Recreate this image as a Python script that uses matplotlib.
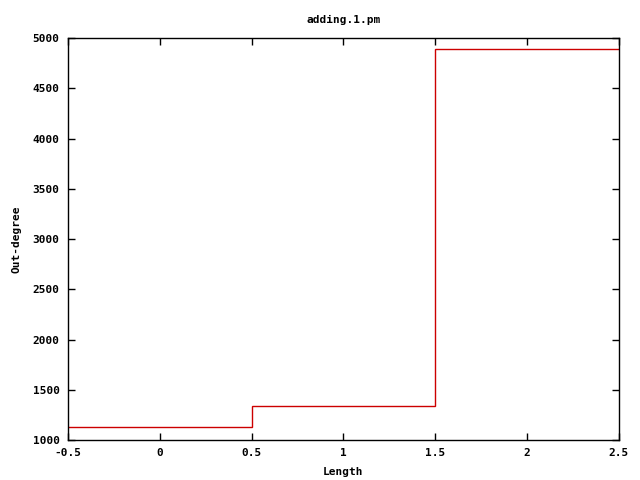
import matplotlib
matplotlib.use("Agg")
import matplotlib.pyplot as plt

# step edges and heights (gnuplot histeps style)
edges = [-0.5, 0.5, 1.5, 2.5]
outdeg = [1126, 1335, 4893]

xticks = [-0.5, 0, 0.5, 1, 1.5, 2, 2.5]
xlabels = ["-0.5", "0", "0.5", "1", "1.5", "2", "2.5"]
yticks = [1000, 1500, 2000, 2500, 3000, 3500, 4000, 4500, 5000]

plt.rcParams['font.family'] = ['DejaVu Sans Mono']
plt.rcParams['font.weight'] = 'bold'
plt.rcParams['font.size'] = 8

fig = plt.figure(figsize=(6.4, 4.8), dpi=100)
ax = fig.add_axes([0.106, 0.0833, 0.861, 0.8375])

ax.stairs(outdeg, edges, baseline=None, color='#cc0000', linewidth=1)

ax.set_xlim(-0.5, 2.5)
ax.set_ylim(1000, 5000)
ax.set_xticks(xticks)
ax.set_xticklabels(xlabels)
ax.set_yticks(yticks)
ax.tick_params(direction='in', top=True, right=True, length=5, width=1, pad=6)
for s in ax.spines.values():
    s.set_linewidth(1)

ax.set_xlabel("Length", fontweight='bold', labelpad=6)
ax.set_ylabel("Out-degree", fontweight='bold', labelpad=8)
ax.set_title("adding.1.pm", fontweight='bold', fontsize=8, pad=11)

fig.savefig("out.png", dpi=100)
